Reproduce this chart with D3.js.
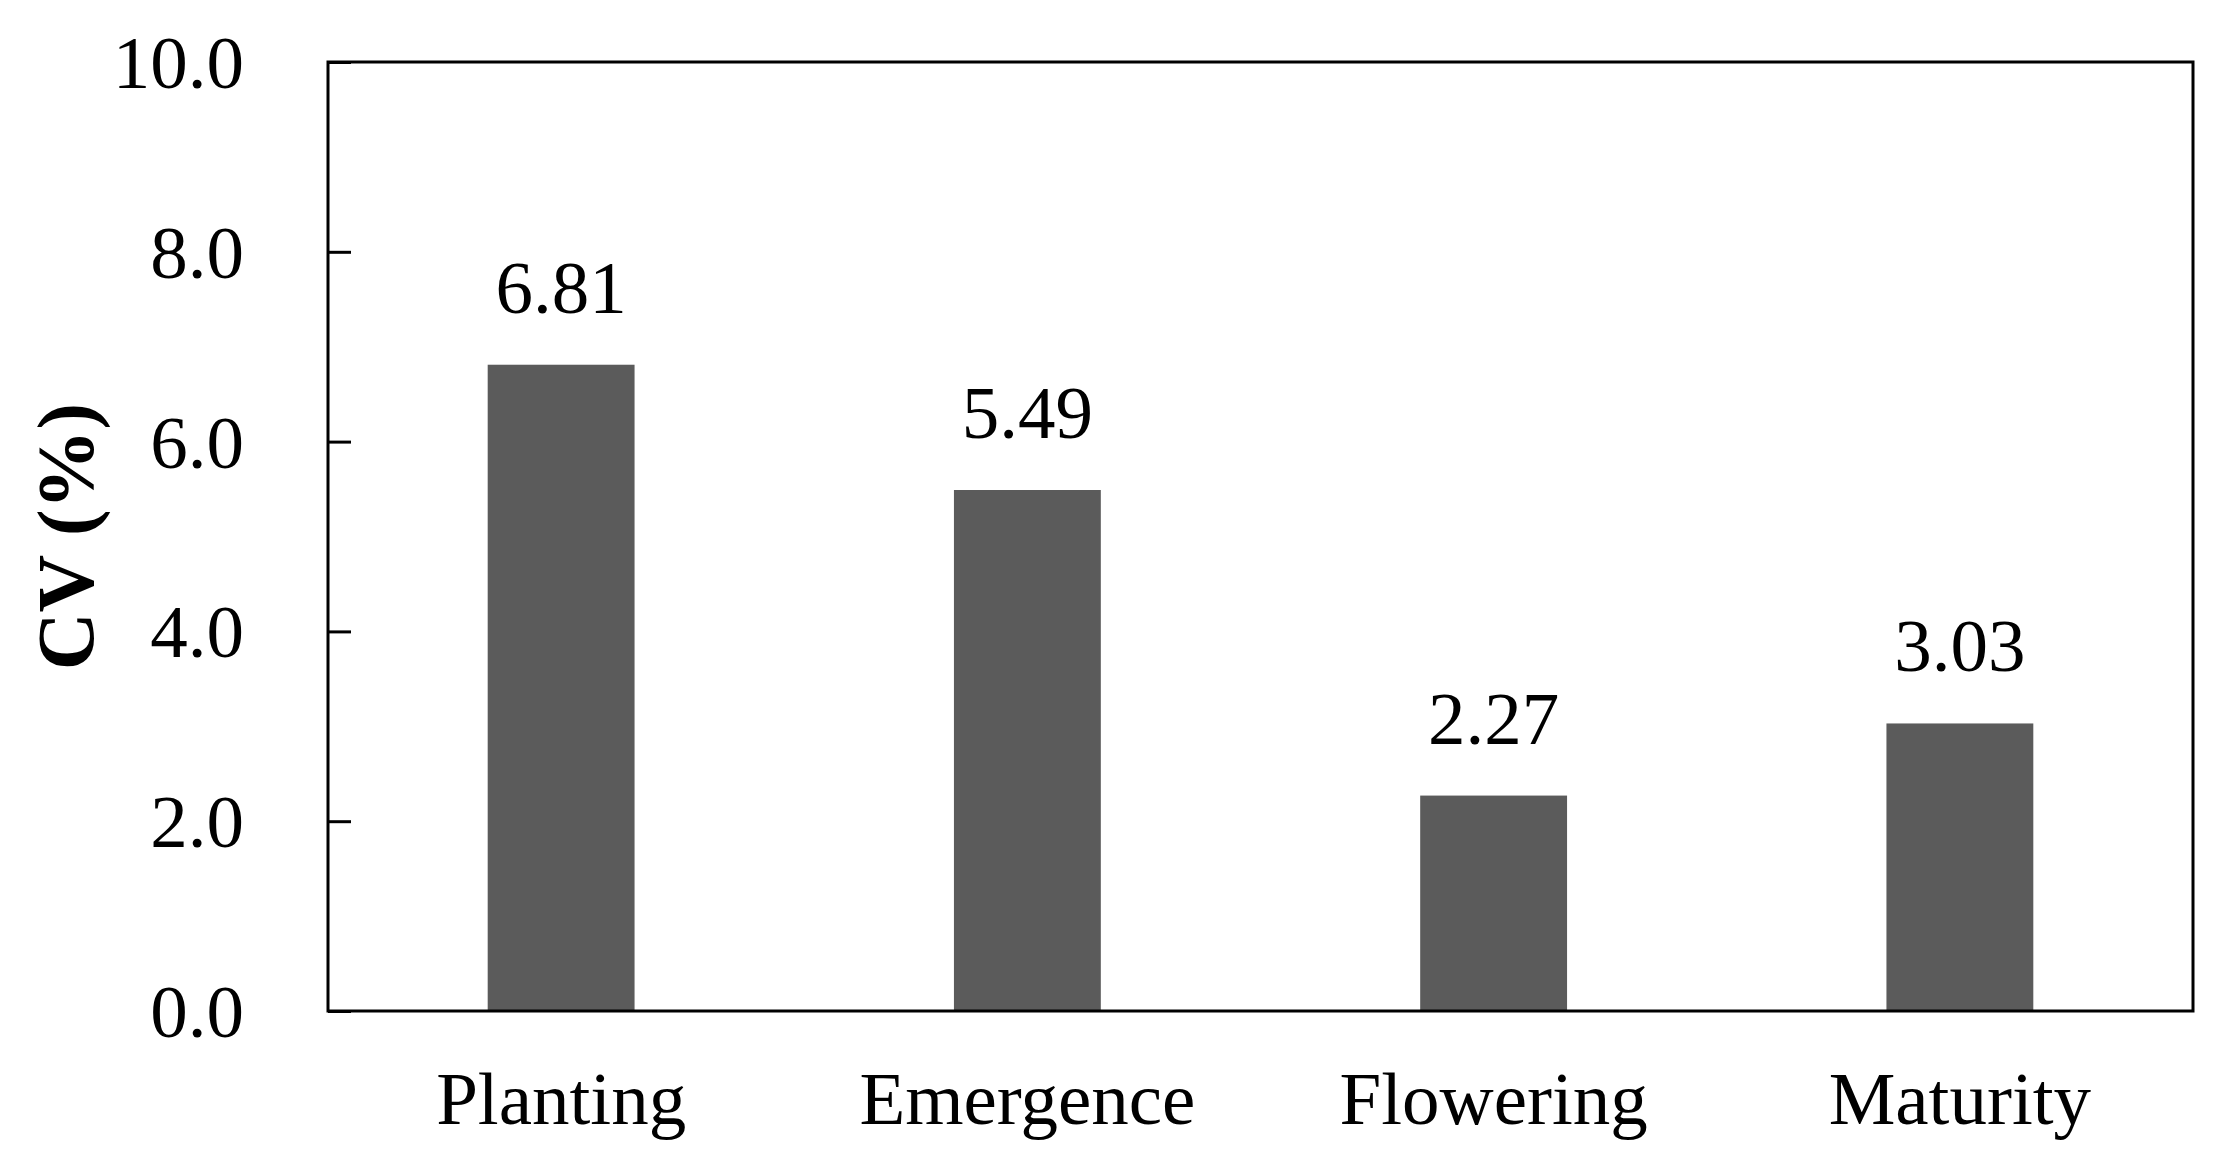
<!DOCTYPE html>
<html>
<head>
<meta charset="utf-8">
<script src="https://cdnjs.cloudflare.com/ajax/libs/d3/7.8.5/d3.min.js"></script>
<style>
  body { margin: 0; background: #fff; }
  svg { display: block; }
  text { font-family: "Liberation Serif", "Times New Roman", serif; fill: #000; }
</style>
</head>
<body>
<svg width="2220" height="1159"></svg>
<script>
// data
var stages = ['Planting', 'Emergence', 'Flowering', 'Maturity'];
var cv = [6.81, 5.49, 2.27, 3.03];
var yTicks = [0, 2, 4, 6, 8, 10];

var svg = d3.select('svg');
// plot frame (window.top is read-only, so no "top" here)
var plotLeft = 328, plotRight = 2193, plotTop = 62, plotBottom = 1011;

var xScale = d3.scaleBand().domain(stages)
  .range([plotLeft, plotRight])
  .paddingInner(0.685)
  .paddingOuter(0.3425);
var yScale = d3.scaleLinear().domain([0, 10])
  .range([plotBottom, plotTop]);

/**
 * Bars
 */
svg.selectAll('rect.bar')
  .data(stages)
  .enter()
  .append('rect')
  .attr('class', 'bar')
  .attr('x', function(d){ return xScale(d); })
  .attr('width', xScale.bandwidth())
  .attr('y', function(d, i){ return yScale(cv[i]); })
  .attr('height', function(d, i){ return plotBottom - yScale(cv[i]); })
  .attr('fill', '#5b5b5b');

// value labels
svg.selectAll('text.val')
  .data(stages)
  .enter()
  .append('text')
  .attr('class', 'val')
  .attr('x', function(d){ return xScale(d) + xScale.bandwidth() / 2; })
  .attr('y', function(d, i){ return yScale(cv[i]) - 52; })
  .attr('text-anchor', 'middle')
  .style('font-size', '75px')
  .text(function(d, i){ return cv[i].toFixed(2); });

/**
 * Axis
 */
var yAxis = d3.axisLeft(yScale)
  .tickValues(yTicks)
  .tickFormat(d3.format('.1f'))
  .tickSizeInner(-23)
  .tickSizeOuter(0)
  .tickPadding(84);
var gy = svg.append('g')
  .attr('transform', 'translate(' + plotLeft + ',0)')
  .call(yAxis);
gy.select('.domain').remove();
gy.selectAll('line').attr('stroke', '#000').attr('stroke-width', 3);
gy.selectAll('text')
  .attr('dy', '0.34em')
  .style('font-size', '75px')
  .style('font-family', '"Liberation Serif", serif');

var xAxis = d3.axisBottom(xScale).tickSize(0).tickPadding(113);
var gx = svg.append('g')
  .attr('transform', 'translate(0,' + plotBottom + ')')
  .call(xAxis);
gx.select('.domain').remove();
gx.selectAll('text')
  .attr('dy', 0)
  .style('font-size', '75px')
  .style('font-family', '"Liberation Serif", serif');

// frame
svg.append('rect')
  .attr('x', plotLeft)
  .attr('y', plotTop)
  .attr('width', plotRight - plotLeft)
  .attr('height', plotBottom - plotTop)
  .attr('fill', 'none')
  .attr('stroke', '#000')
  .attr('stroke-width', 3);

/**
 * Labels
 */
svg.append('text')
  .attr('transform', 'translate(93,' + ((plotTop + plotBottom) / 2) + ') rotate(-90)')
  .attr('text-anchor', 'middle')
  .style('font-size', '80px')
  .style('font-weight', 'bold')
  .text('CV (%)');
</script>
</body>
</html>
